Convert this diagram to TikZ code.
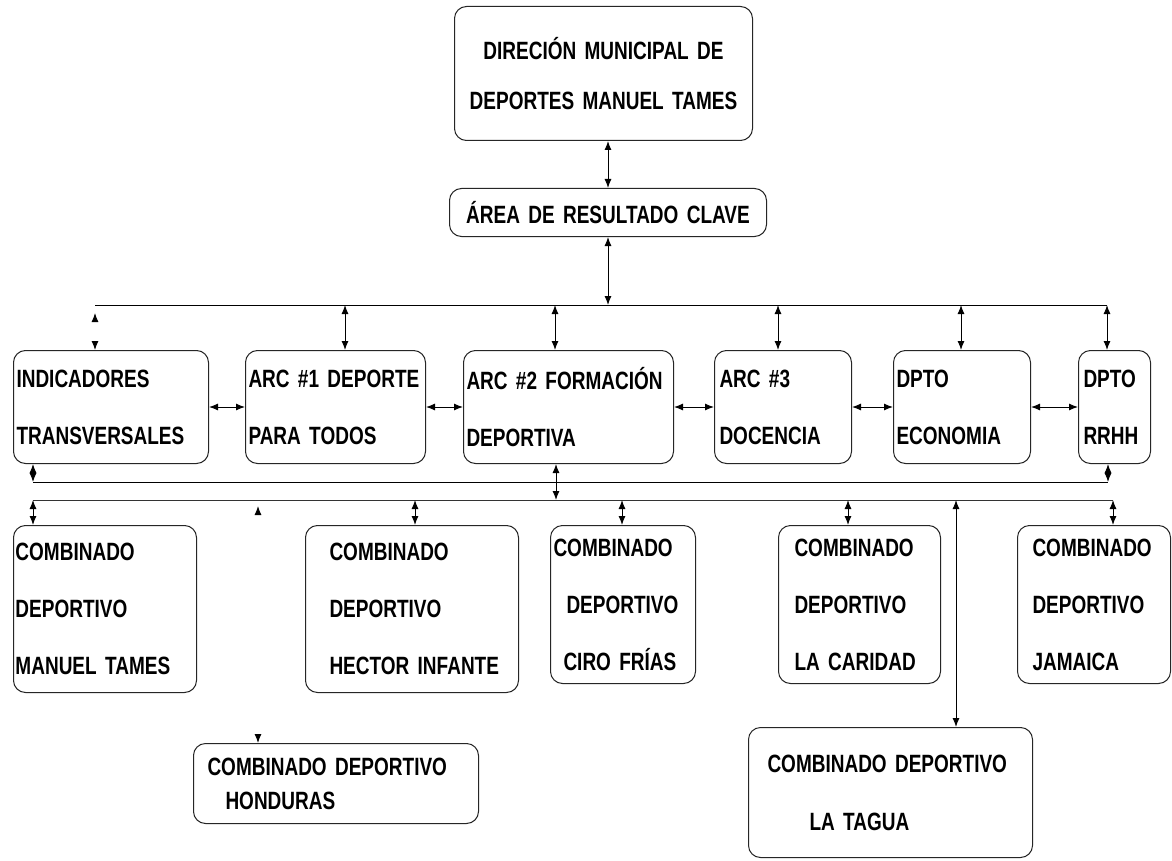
\documentclass[tikz,border=0pt]{standalone}
\usepackage{fontspec}
\newfontfamily\nf[FakeStretch=0.76]{Liberation Sans Bold}
\usetikzlibrary{arrows.meta,calc}
\hyphenpenalty=10000
\exhyphenpenalty=10000
\begin{document}
\begin{tikzpicture}[x=1pt,y=-1pt,
  box/.style={draw=black!85, line width=1pt, rounded corners=12pt, anchor=north west,
    inner xsep=3pt, inner ysep=0pt, align=left, font=\nf\fontsize{25}{57}\selectfont},
  rtwo/.style={font=\nf\fontsize{25}{57}\selectfont},
  ln/.style={line width=1pt, draw=black},
  arr/.style={line width=1pt, {Latex[length=9pt,width=7pt]}-{Latex[length=9pt,width=7pt]}},
  tips/.style={arr, dash pattern=on 0pt off 2000pt}]
\fill[white] (0,0) rectangle (1172,861);
\useasboundingbox (0,0) rectangle (1172,861);

% top levels
\node[box, align=center, minimum width=298pt, minimum height=134pt, text width=292pt,
  font=\nf\fontsize{25}{50}\selectfont] (dir) at (454,6) {DIRECIÓN~MUNICIPAL~DE\\DEPORTES~MANUEL~TAMES};
\node[box, align=center, minimum width=317pt, minimum height=48pt, text width=311pt] (area) at (449,188) {ÁREA~DE~RESULTADO~CLAVE};

% row 1
\node[box, minimum width=195pt, minimum height=113pt, text width=189pt] (ind) at (13,350) {INDICADORES\\TRANSVERSALES};
\node[box, minimum width=180pt, minimum height=113pt, text width=174pt] (arc1) at (245,350) {ARC~\#1~DEPORTE\\PARA~TODOS};
\node[box, minimum width=210pt, minimum height=113pt, text width=204pt] (arc2) at (463,350) {ARC~\#2~FORMACIÓN\\DEPORTIVA};
\node[box, inner xsep=5pt, minimum width=137pt, minimum height=113pt, text width=127pt] (arc3) at (714,350) {ARC~\#3\\DOCENCIA};
\node[box, minimum width=137pt, minimum height=113pt, text width=131pt] (econ) at (893,350) {DPTO\\ECONOMIA};
\node[box, inner xsep=5pt, minimum width=72pt, minimum height=113pt, text width=62pt] (rrhh) at (1078,350) {DPTO\\RRHH};

% row 2
\node[box, rtwo, inner xsep=2pt, minimum width=183pt, minimum height=167pt, text width=179pt] (mt) at (13,525) {COMBINADO\\DEPORTIVO\\MANUEL~TAMES};
\node[box, rtwo, inner xsep=24pt, minimum width=213pt, minimum height=167pt, text width=165pt] (hi) at (305,525) {COMBINADO\\DEPORTIVO\\HECTOR~INFANTE};
\node[box, rtwo, inner xsep=3pt, minimum width=145pt, minimum height=158pt, text width=139pt] (ciro) at (550,525) {COMBINADO\\\hspace*{13pt}DEPORTIVO\\\hspace*{10pt}CIRO~FRÍAS};
\node[box, rtwo, inner xsep=16pt, minimum width=162pt, minimum height=158pt, text width=130pt] (cari) at (778,525) {COMBINADO\\DEPORTIVO\\LA~CARIDAD};
\node[box, rtwo, inner xsep=15pt, minimum width=153pt, minimum height=158pt, text width=123pt] (jam) at (1017,525) {COMBINADO\\DEPORTIVO\\JAMAICA};

% row 3
\node[box, inner xsep=14pt, minimum width=285pt, minimum height=80pt, text width=257pt,
  font=\nf\fontsize{25}{34}\selectfont] (hond) at (193,743) {COMBINADO~DEPORTIVO\\\hspace*{18pt}HONDURAS};
\node[box, inner xsep=19pt, minimum width=284pt, minimum height=130pt, text width=246pt,
  font=\nf\fontsize{25}{58}\selectfont] (tagua) at (748,727) {COMBINADO~DEPORTIVO\\\hspace*{42pt}LA~TAGUA};

% upper connectors
\draw[arr] (area.north |- dir.south) -- (area.north);
\coordinate (busT0) at (95,305);
\coordinate (busT1) at (1107,305);
\draw[ln] (busT0) -- (busT1);
\draw[arr] (area.south) -- (area.south |- busT0);
\coordinate (dInd) at (95,313);
\coordinate (d1) at (345,305);
\coordinate (d2) at (555,305);
\coordinate (d3) at (778,305);
\coordinate (d4) at (961,305);
\draw[tips] (dInd) -- (dInd |- ind.north);
\draw[arr] (d1) -- (d1 |- arc1.north);
\draw[arr] (d2) -- (d2 |- arc2.north);
\draw[arr] (d3) -- (d3 |- arc3.north);
\draw[arr] (d4) -- (d4 |- econ.north);
\draw[arr] (busT1) -- (busT1 |- rrhh.north);

% horizontal links
\draw[arr] (ind.east) -- (arc1.west);
\draw[arr] (arc1.east) -- (arc2.west);
\draw[arr] (arc2.east) -- (arc3.west);
\draw[arr] (arc3.east) -- (econ.west);
\draw[arr] (econ.east) -- (rrhh.west);

% bus A
\coordinate (bA0) at (33,482);
\coordinate (bA1) at (1108,482);
\draw[ln] (bA0) -- (bA1);
\draw[arr] (bA0 |- ind.south) -- (bA0);
\draw[arr] (bA1 |- rrhh.south) -- (bA1);

% bus B
\coordinate (bB0) at (33,500);
\coordinate (bB1) at (1113,500);
\draw[ln, draw=black!80] (bB0) -- (bB1);
\coordinate (c2) at (556,500);
\draw[arr] (c2 |- arc2.south) -- (c2);
\coordinate (e1) at (415,500);
\coordinate (e2) at (622,500);
\coordinate (e3) at (848,500);
\draw[arr] (bB0) -- (bB0 |- mt.north);
\draw[arr] (e1) -- (e1 |- hi.north);
\draw[arr] (e2) -- (e2 |- ciro.north);
\draw[arr] (e3) -- (e3 |- cari.north);
\draw[arr] (bB1) -- (bB1 |- jam.north);

% lower links
\coordinate (h0) at (258,506);
\draw[tips] (h0) -- (h0 |- hond.north);
\coordinate (t0) at (956,500);
\draw[arr] (t0) -- (t0 |- tagua.north);
\end{tikzpicture}
\end{document}
